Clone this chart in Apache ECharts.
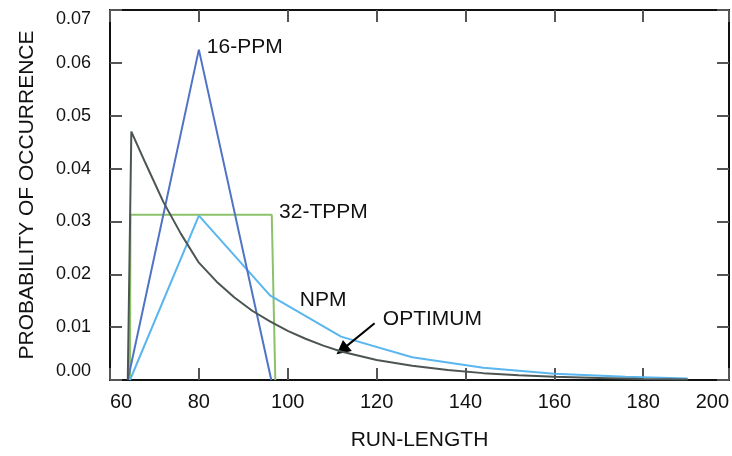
<!DOCTYPE html>
<html>
<head>
<meta charset="utf-8">
<script src="https://cdn.jsdelivr.net/npm/echarts@6/dist/echarts.min.js"></script>
<style>
html,body{margin:0;padding:0;background:#fff;}
#chart{width:732px;height:456px;}
</style>
</head>
<body>
<div id="chart"></div>
<script>
// ---- data ----
var xTickLabels = ['60', '80', '100', '120', '140', '160', '180', '200'];
var yTickLabels = ['0.00', '0.01', '0.02', '0.03', '0.04', '0.05', '0.06', '0.07'];

var optimumX = [64.0, 64.8, 68, 72, 76, 80, 84, 88, 92, 96, 100, 104, 108, 112, 120, 128, 136, 144, 152, 160, 170, 180, 190];
var optimumY = [0.0, 0.0470, 0.0410, 0.0337, 0.0276, 0.0222, 0.0186, 0.0156, 0.0131, 0.0111, 0.0093, 0.0078, 0.0065, 0.0054, 0.0038, 0.0027, 0.0019, 0.0013, 0.0009, 0.0006, 0.0004, 0.0002, 0.0001];

var ppm16X = [64.0, 80.0, 96.3];
var ppm16Y = [0.0, 0.0625, 0.0];

var tppm32X = [64.5, 64.6, 96.4, 97.2];
var tppm32Y = [0.0, 0.03125, 0.03125, 0.0];

var npmX = [64.5, 80, 96, 112, 128, 144, 160, 176, 190];
var npmY = [0.0, 0.0311, 0.0160, 0.0082, 0.0043, 0.0023, 0.0012, 0.0006, 0.0003];

var annotationTexts = ['16-PPM', '32-TPPM', 'NPM', 'OPTIMUM'];
var annotationAnchors = [[81.8, 0.0630], [98.05, 0.03175], [102.7, 0.0151], [121.4, 0.01154]];
var arrowFrom = [119.55, 0.01073];
var arrowTo = [112.2, 0.0057];

function pairs(xs, ys) { return xs.map(function (x, i) { return [x, ys[i]]; }); }

var FONT = '"Liberation Sans", Arial, Helvetica, sans-serif';
var chart = echarts.init(document.getElementById('chart'), null, { renderer: 'canvas' });

var xMax = 199.3;
function xLabelFmt(v) { var i = Math.round((v - 60) / 20); return xTickLabels[i] !== undefined ? xTickLabels[i] : ''; }
function yLabelFmt(v) { var i = Math.round(v / 0.01); return yTickLabels[i] !== undefined ? yTickLabels[i] : ''; }

var axisLineStyle = { color: '#111', width: 2 };
var tickStyle = { color: '#555', width: 2 };

var option = {
  backgroundColor: '#fff',
  animation: false,
  grid: { left: 110, right: 2, top: 10, bottom: 74, containLabel: false },
  xAxis: [{
    type: 'value', min: 60, max: xMax, interval: 20, position: 'bottom',
    name: 'RUN-LENGTH', nameLocation: 'middle', nameGap: 50,
    nameTextStyle: { fontFamily: FONT, fontSize: 21, color: '#111' },
    axisLine: { show: true, onZero: false, lineStyle: axisLineStyle },
    axisTick: { show: true, inside: true, length: 12, lineStyle: tickStyle },
    axisLabel: { formatter: xLabelFmt, fontFamily: FONT, fontSize: 20, color: '#111', margin: 12, alignMinLabel: 'left', alignMaxLabel: 'right', showMinLabel: true, showMaxLabel: true },
    splitLine: { show: false }
  }, {
    type: 'value', min: 60, max: xMax, interval: 20, position: 'top',
    axisLine: { show: true, onZero: false, lineStyle: axisLineStyle },
    axisTick: { show: true, inside: true, length: 12, lineStyle: tickStyle },
    axisLabel: { show: false }, splitLine: { show: false }
  }],
  yAxis: [{
    type: 'value', min: 0, max: 0.07, interval: 0.01, position: 'left',
    name: 'PROBABILITY OF OCCURRENCE', nameLocation: 'middle', nameGap: 72,
    nameTextStyle: { fontFamily: FONT, fontSize: 21, color: '#111' },
    axisLine: { show: true, onZero: false, lineStyle: axisLineStyle },
    axisTick: { show: true, inside: true, length: 12, lineStyle: tickStyle },
    axisLabel: { formatter: yLabelFmt, fontFamily: FONT, fontSize: 18, color: '#111', margin: 19, verticalAlignMinLabel: 'bottom', verticalAlignMaxLabel: 'top' },
    splitLine: { show: false }
  }, {
    type: 'value', min: 0, max: 0.07, interval: 0.01, position: 'right',
    axisLine: { show: true, onZero: false, lineStyle: axisLineStyle },
    axisTick: { show: true, inside: true, length: 12, lineStyle: tickStyle },
    axisLabel: { show: false }, splitLine: { show: false }
  }],
  series: [
    {
      name: '32-TPPM', type: 'line', data: pairs(tppm32X, tppm32Y), showSymbol: false, symbol: 'none',
      lineStyle: { color: '#8cc16c', width: 2 }, z: 2
    },
    {
      name: 'NPM', type: 'line', data: pairs(npmX, npmY), showSymbol: false, symbol: 'none',
      lineStyle: { color: '#5ab6ee', width: 2 }, z: 3
    },
    {
      name: '16-PPM', type: 'line', data: pairs(ppm16X, ppm16Y), showSymbol: false, symbol: 'none',
      lineStyle: { color: '#5073c6', width: 2 }, z: 4
    },
    {
      name: 'OPTIMUM', type: 'line', data: pairs(optimumX, optimumY), showSymbol: false, symbol: 'none',
      lineStyle: { color: '#4c5551', width: 2 }, z: 5,
      markLine: {
        silent: true, animation: false,
        symbol: ['none', 'triangle'], symbolSize: 14,
        label: { show: false },
        itemStyle: { color: '#000' },
        lineStyle: { color: '#000', width: 2, type: 'solid' },
        data: [[{ coord: arrowFrom, symbol: 'none' }, { coord: arrowTo, symbol: 'triangle', symbolSize: 14 }]]
      }
    }
  ]
};
chart.setOption(option);

var graphics = annotationTexts.map(function (t, i) {
  var p = chart.convertToPixel({ xAxisIndex: 0, yAxisIndex: 0 }, annotationAnchors[i]);
  return {
    type: 'text', x: p[0], y: p[1], silent: true, z: 10,
    style: { text: t, fill: '#111', font: '21px ' + FONT, textAlign: 'left', textVerticalAlign: 'middle', verticalAlign: 'middle' }
  };
});
chart.setOption({ graphic: graphics });
</script>
</body>
</html>
